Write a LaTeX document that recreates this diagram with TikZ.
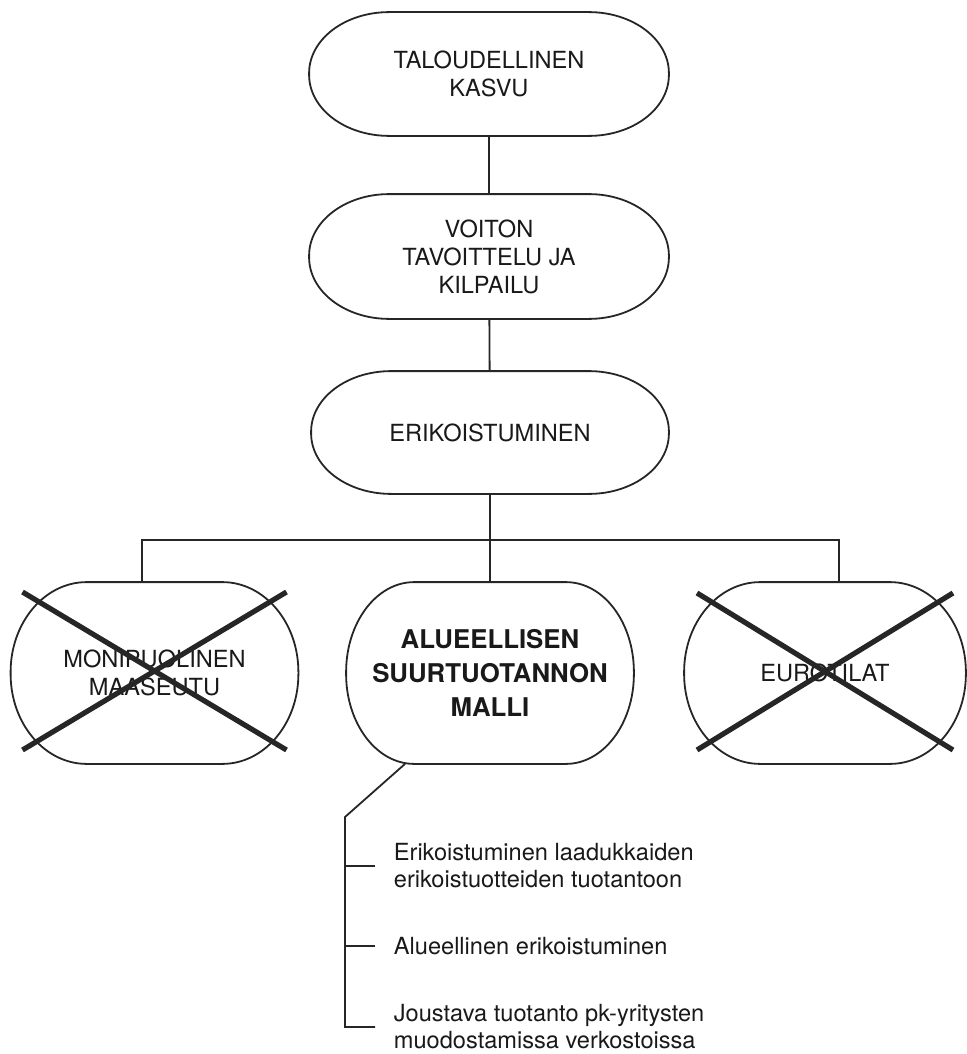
\documentclass[tikz,border=0pt]{standalone}
\usepackage{fontspec}
\setmainfont{TeX Gyre Heros}

% frame with elliptic corners round a node: name, x radius, y radius
\newcommand{\ovalframe}[3]{%
  \draw ([xshift=#2]#1.north west) -- ([xshift=-#2]#1.north east)
    arc[start angle=90,end angle=0,x radius=#2,y radius=#3]
    -- ([yshift=#3]#1.south east)
    arc[start angle=0,end angle=-90,x radius=#2,y radius=#3]
    -- ([xshift=#2]#1.south west)
    arc[start angle=270,end angle=180,x radius=#2,y radius=#3]
    -- ([yshift=-#3]#1.north west)
    arc[start angle=180,end angle=90,x radius=#2,y radius=#3] -- cycle;}

\begin{document}
\begin{tikzpicture}[x=0.5pt,y=-0.5pt,line width=0.9pt,draw=black!85,
    box/.style={inner sep=0pt,align=center,text=black!90,
      font=\fontsize{11.8}{14}\selectfont},
    topbox/.style={box,minimum width=179pt,minimum height=61pt},
    tallbox/.style={box,minimum width=143pt,minimum height=90pt},
    item/.style={anchor=west,align=left,inner xsep=9pt,inner ysep=0pt,
      text=black!90,font=\fontsize{11.8}{13.5}\selectfont},
    cross/.style={line width=2.6pt}]
\useasboundingbox (0,0) rectangle (966,1054);

% chain at the top
\node[topbox] (kasvu) at (489,74) {TALOUDELLINEN\\KASVU};
\node[topbox,minimum height=61.5pt] (voitto) at (489,256.5) {VOITON\\TAVOITTELU JA\\KILPAILU};
\node[topbox,minimum width=178pt,minimum height=60.5pt] (erik) at (490,432.5) {ERIKOISTUMINEN};

% three models
\node[tallbox] (moni) at (154.5,673) {MONIPUOLINEN\\MAASEUTU};
\node[tallbox,font=\fontsize{12.9}{17}\selectfont\bfseries] (malli) at (490,673) {ALUEELLISEN\\SUURTUOTANNON\\MALLI};
\node[tallbox,minimum width=140pt] (euro) at (825,673) {EUROTILAT};

\ovalframe{kasvu}{40pt}{30.5pt}
\ovalframe{voitto}{40pt}{30.75pt}
\ovalframe{erik}{40pt}{30.25pt}
\ovalframe{moni}{38pt}{45pt}
\ovalframe{malli}{34pt}{45pt}
\ovalframe{euro}{38pt}{45pt}

\draw (kasvu) -- (voitto);
\draw (voitto) -- (erik);
\coordinate (bus) at (490,540);
\draw (erik) -- (malli);
\draw ([xshift=-6.25pt]moni.north) |- (bus) -| ([xshift=7pt]euro.north);

% crossed out
\draw[cross] ([shift={(-132,-81)}]moni.center) -- ([shift={(132,77)}]moni.center);
\draw[cross] ([shift={(-132,77)}]moni.center) -- ([shift={(132,-81)}]moni.center);
\draw[cross] ([shift={(-128,-80)}]euro.center) -- ([shift={(128,77)}]euro.center);
\draw[cross] ([shift={(-128,77)}]euro.center) -- ([shift={(128,-80)}]euro.center);

% features of the model
\node[item] (laatu) at (375,866) {Erikoistuminen laadukkaiden\\erikoistuotteiden tuotantoon};
\node[item] (alue) at (375,946) {Alueellinen erikoistuminen};
\node[item] (verkko) at (375,1027) {Joustava tuotanto pk-yritysten\\muodostamissa verkostoissa};
\coordinate (spine) at (345,817);
\draw ([xshift=-42.5pt]malli.south) -- (spine) |- (verkko.west);
\draw (spine |- laatu.west) -- (laatu.west);
\draw (spine |- alue.west) -- (alue.west);
\end{tikzpicture}
\end{document}
